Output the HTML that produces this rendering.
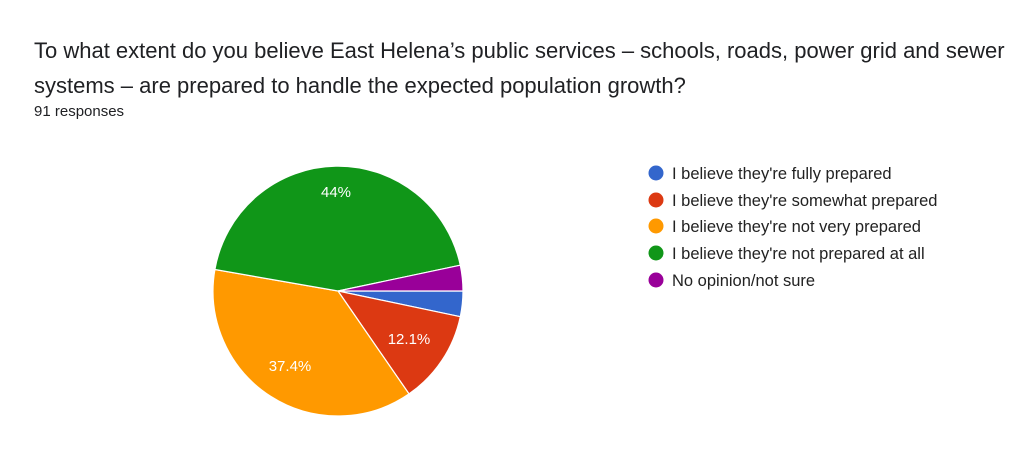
<!DOCTYPE html>
<html><head><meta charset="utf-8"><style>
body{margin:0;width:1024px;height:465px;background:#fff;font-family:"Liberation Sans",Arial,sans-serif;position:relative;overflow:hidden}
.t{position:absolute;left:34px;top:33px;font-size:22px;line-height:35px;color:#202124;width:1000px;white-space:nowrap}
.r{position:absolute;left:34px;top:103px;font-size:15px;color:#202124}
</style></head><body>
<div class="t">To what extent do you believe East Helena’s public services – schools, roads, power grid and sewer<br>systems – are prepared to handle the expected population growth?</div>
<div class="r">91 responses</div>
<svg width="1024" height="465" style="position:absolute;left:0;top:0" font-family="Liberation Sans, Arial, sans-serif">
<g stroke="#fff" stroke-width="1.2">
<path d="M338,291 L463,291 A125,125 0 0 1 460.3,316.7 Z" fill="#3366cc"/>
<path d="M338,291 L460.3,316.7 A125,125 0 0 1 409.0,393.9 Z" fill="#dc3912"/>
<path d="M338,291 L409.0,393.9 A125,125 0 0 1 214.9,269.5 Z" fill="#ff9900"/>
<path d="M338,291 L214.9,269.5 A125,125 0 0 1 460.3,265.2 Z" fill="#109618"/>
<path d="M338,291 L460.3,265.2 A125,125 0 0 1 463,291 Z" fill="#990099"/>
</g>
<g fill="#fff" font-size="15" text-anchor="middle">
<text x="336" y="197">44%</text>
<text x="409" y="344">12.1%</text>
<text x="290" y="371">37.4%</text>
</g>
<g font-size="16.5" fill="#222">
<circle cx="656" cy="173" r="7.5" fill="#3366cc"/><text x="672" y="179">I believe they're fully prepared</text>
<circle cx="656" cy="200" r="7.5" fill="#dc3912"/><text x="672" y="206">I believe they're somewhat prepared</text>
<circle cx="656" cy="226" r="7.5" fill="#ff9900"/><text x="672" y="232">I believe they're not very prepared</text>
<circle cx="656" cy="253" r="7.5" fill="#109618"/><text x="672" y="259">I believe they're not prepared at all</text>
<circle cx="656" cy="280" r="7.5" fill="#990099"/><text x="672" y="286">No opinion/not sure</text>
</g>
</svg>
</body></html>
